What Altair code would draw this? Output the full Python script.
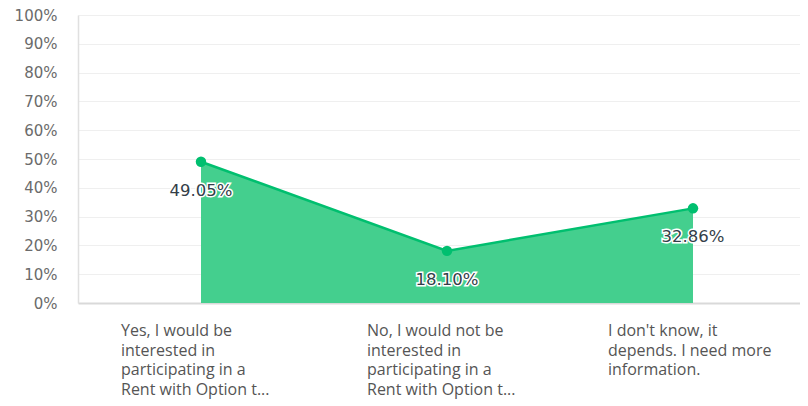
import altair as alt
import pandas as pd

categories = [
    "Yes, I would be interested in participating in a Rent with Option t...",
    "No, I would not be interested in participating in a Rent with Option t...",
    "I don't know, it depends. I need more information.",
]
label_lines = [
    ["Yes, I would be", "interested in", "participating in a", "Rent with Option t..."],
    ["No, I would not be", "interested in", "participating in a", "Rent with Option t..."],
    ["I don't know, it", "depends. I need more", "information."],
]
values = [0.4905, 0.1810, 0.3286]
value_labels = ["49.05%", "18.10%", "32.86%"]
tick_values = [0.0, 0.1, 0.2, 0.3, 0.4, 0.5, 0.6, 0.7, 0.8, 0.9, 1.0]
label_dx = [-80, -80, -85]

W, H = 722, 288

df = pd.DataFrame({
    "idx": list(range(len(categories))),
    "category": categories,
    "value": values,
    "label": value_labels,
})

xs = alt.Scale(domain=[-0.5, -0.5 + W / 246.0], nice=False, zero=False)
ys = alt.Scale(domain=[0, 1], nice=False)

x_enc = alt.X("idx:Q", scale=xs,
              axis=alt.Axis(labels=False, ticks=False, grid=False, title=None,
                            domainColor="#d9d9d9", domainWidth=2))
y_enc = alt.Y("value:Q", scale=ys,
              axis=alt.Axis(format=".0%", values=tick_values,
                            title=None, ticks=False, labelPadding=21,
                            labelOverlap=False,
                            labelColor="#6b6b6b", labelFont="DejaVu Sans",
                            labelFontSize=15, gridColor="#efefef",
                            domainColor="#e0e0e0", domainWidth=1.5))

base = alt.Chart(df)

area = base.mark_area(color="#44cf8e", opacity=1).encode(x=x_enc, y=y_enc)
line = base.mark_line(color="#00bf6f", strokeWidth=2.5).encode(x=x_enc, y=y_enc)
pts = base.mark_point(filled=True, color="#00bf6f", size=110, opacity=1).encode(x=x_enc, y=y_enc)

halo = base.mark_text(font="DejaVu Sans", fontSize=16.5, dy=29, stroke="white",
                      strokeWidth=3, color="white").encode(x=x_enc, y=y_enc, text="label:N")
txt = base.mark_text(font="DejaVu Sans", fontSize=16.5, dy=29, color="#333e48").encode(
    x=x_enc, y=y_enc, text="label:N")

layers = [area, line, pts, halo, txt]
for i, lines in enumerate(label_lines):
    d = pd.DataFrame({"idx": [i], "t": [lines]})
    layers.append(
        alt.Chart(d).mark_text(
            font="Open Sans", fontSize=16, align="left",
            baseline="top", lineHeight=19.5, color="#555555", dx=label_dx[i]
        ).encode(x=x_enc, y=alt.value(H + 20), text="t")
    )

chart = alt.layer(*layers).properties(
    width=W, height=H, autosize="none",
    padding={"left": 70, "top": 7, "right": 0, "bottom": 100},
).configure_view(stroke=None)

chart.save("out.html", embed_options={"renderer": "svg", "actions": False})
